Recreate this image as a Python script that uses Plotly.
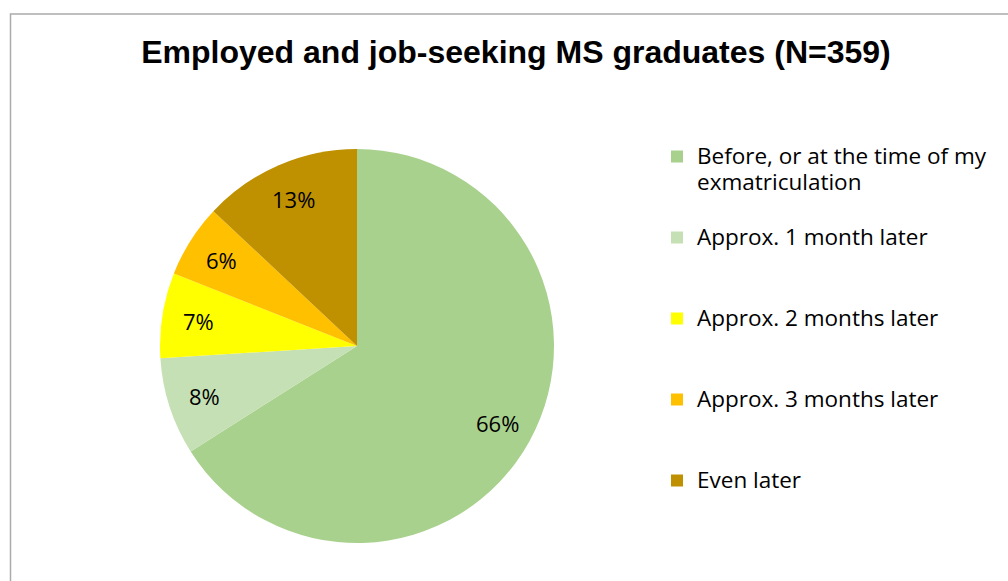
import math
import plotly.graph_objects as go

# Share of graduates by time of first job relative to exmatriculation
categories = [
    "Before, or at the time of my<br>exmatriculation",
    "Approx. 1 month later",
    "Approx. 2 months later",
    "Approx. 3 months later",
    "Even later",
]
shares = [66, 8, 7, 6, 13]
colors = ["#A9D18E", "#C5E0B4", "#FFFF00", "#FFC000", "#BF9000"]

W, H = 1008, 581
cx, cy, r = 357, 346, 197

# legend text is drawn larger than the legend font, which only sets the line
# spacing; entries are padded to three lines so they are evenly spaced
legend_labels = []
for c in categories:
    n = c.count("<br>") + 1
    lines = c.split("<br>")
    styled = "<br>".join('<span style="font-size:22.5px">%s</span>' % ln for ln in lines)
    legend_labels.append(styled + "<br> " * (3 - n))

fig = go.Figure(
    go.Pie(
        labels=legend_labels,
        values=shares,
        sort=False,
        direction="clockwise",
        rotation=0,
        marker=dict(colors=colors, line=dict(width=0)),
        textinfo="none",
        domain=dict(
            x=[(cx - r) / W, (cx + r) / W],
            y=[(H - cy - r) / H, (H - cy + r) / H],
        ),
        hoverinfo="skip",
    )
)

# percentage labels along each slice's bisector, clockwise from 12 o'clock
total = sum(shares)
annotations = []
cum = 0
for v in shares:
    mid = (cum + v / 2) / total * 2 * math.pi
    cum += v
    lx = cx + 0.815 * r * math.sin(mid)
    ly = cy - 0.815 * r * math.cos(mid)
    annotations.append(
        dict(
            x=lx / W,
            y=1 - ly / H,
            xref="paper",
            yref="paper",
            text="%d%%" % v,
            showarrow=False,
            xanchor="center",
            yanchor="middle",
            font=dict(family="Open Sans", size=22, color="#000000"),
        )
    )

fig.update_layout(
    width=W,
    height=H,
    margin=dict(l=0, r=0, t=0, b=0),
    paper_bgcolor="white",
    plot_bgcolor="white",
    title=dict(
        text="<b>Employed and job-seeking MS graduates (N=359)</b>",
        x=516 / W,
        xanchor="center",
        y=(H - 52) / H,
        yanchor="middle",
        font=dict(family="Liberation Sans, Arial", size=32, color="#000000"),
    ),
    legend=dict(
        x=657 / W,
        xanchor="left",
        y=1 - 137 / H,
        yanchor="top",
        valign="top",
        font=dict(family="Open Sans", size=20, color="#000000"),
        bgcolor="rgba(0,0,0,0)",
    ),
    annotations=annotations,
    shapes=[
        dict(
            type="rect",
            xref="paper",
            yref="paper",
            x0=10.5 / W,
            x1=1.1,
            y0=-0.1,
            y1=(H - 14) / H,
            line=dict(color="#ABABAB", width=1.5),
            fillcolor="rgba(0,0,0,0)",
            layer="below",
        )
    ],
)

fig.write_html("out.html")
